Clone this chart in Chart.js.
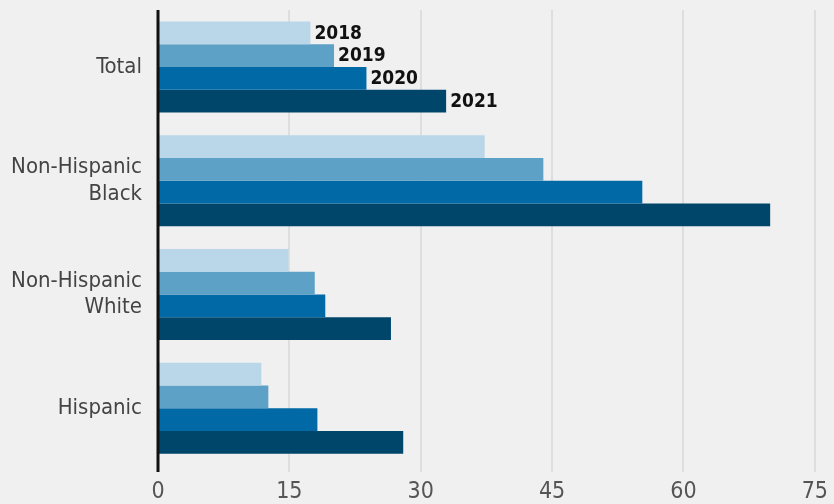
<!DOCTYPE html>
<html>
<head>
<meta charset="utf-8">
<title>Rates by group, 2018-2021</title>
<script src="https://cdn.jsdelivr.net/npm/chart.js"></script>
<style>
    html, body { margin: 0; padding: 0; background: #f0f0f0; }
    #wrap { width: 834px; height: 504px; }
</style>
</head>
<body>
<div id="wrap"><canvas id="groupChart" width="834" height="504"></canvas></div>
<script>
// categories (multi-line labels as arrays)
const groups = ["Total", ["Non-Hispanic", "Black"], ["Non-Hispanic", "White"], "Hispanic"];
const years = ["2018", "2019", "2020", "2021"];

// one array per year, same order as groups
const values2018 = [17.4, 37.3, 14.9, 11.8];
const values2019 = [20.1, 44.0, 17.9, 12.6];
const values2020 = [23.8, 55.3, 19.1, 18.2];
const values2021 = [32.9, 69.9, 26.6, 28.0];

const xTicks = [0, 15, 30, 45, 60, 75];

const colors = ["#b9d7e8", "#5ea1c7", "#0069a6", "#00466b"];
const fontFamily = "'DejaVu Sans Condensed', 'Roboto', sans-serif";

// year names next to the first group's bars, plus the zero line drawn on top
const overlay = {
    id: "overlay",
    afterDatasetsDraw(chart) {
        const ctx = chart.ctx;
        const area = chart.chartArea;
        ctx.save();

        ctx.strokeStyle = "#111";
        ctx.lineWidth = 3;
        ctx.beginPath();
        ctx.moveTo(area.left, area.top);
        ctx.lineTo(area.left, area.bottom + 7);
        ctx.stroke();

        ctx.font = "bold 19px " + fontFamily;
        ctx.fillStyle = "#111";
        ctx.textAlign = "left";
        ctx.textBaseline = "middle";
        chart.data.datasets.forEach((ds, i) => {
            const bar = chart.getDatasetMeta(i).data[0];
            ctx.fillText(ds.label, bar.x + 4, bar.y + 1);
        });
        ctx.restore();
    }
};

const series = [values2018, values2019, values2020, values2021];

new Chart(document.getElementById("groupChart"), {
    type: "bar",
    data: {
        labels: groups,
        datasets: series.map((vals, i) => ({
            label: years[i],
            data: vals,
            backgroundColor: colors[i],
            borderWidth: 0,
            categoryPercentage: 0.8,
            barPercentage: 1.0
        }))
    },
    options: {
        indexAxis: "y",
        responsive: false,
        animation: false,
        layout: { padding: { top: 10, right: 12, left: 0, bottom: 0 } },
        plugins: {
            legend: { display: false },
            tooltip: { enabled: false }
        },
        scales: {
            x: {
                min: 0,
                max: 75,
                afterBuildTicks: axis => { axis.ticks = xTicks.map(v => ({ value: v })); },
                afterFit: axis => { axis.height = 39; },
                grid: {
                    color: "#dedede",
                    lineWidth: 2,
                    drawTicks: true,
                    tickLength: 7
                },
                border: { display: false },
                ticks: {
                    color: "#555",
                    padding: 6,
                    font: { family: fontFamily, size: 23 }
                }
            },
            y: {
                afterFit: axis => {
                    axis.width = 158;
                    // no extra room for the two-line labels at the ends
                    axis.paddingTop = 0;
                    axis.paddingBottom = 0;
                },
                grid: { display: false },
                border: { display: false },
                ticks: {
                    color: "#444",
                    padding: 8,
                    font: { family: fontFamily, size: 22 }
                }
            }
        }
    },
    plugins: [overlay]
});
</script>
</body>
</html>
